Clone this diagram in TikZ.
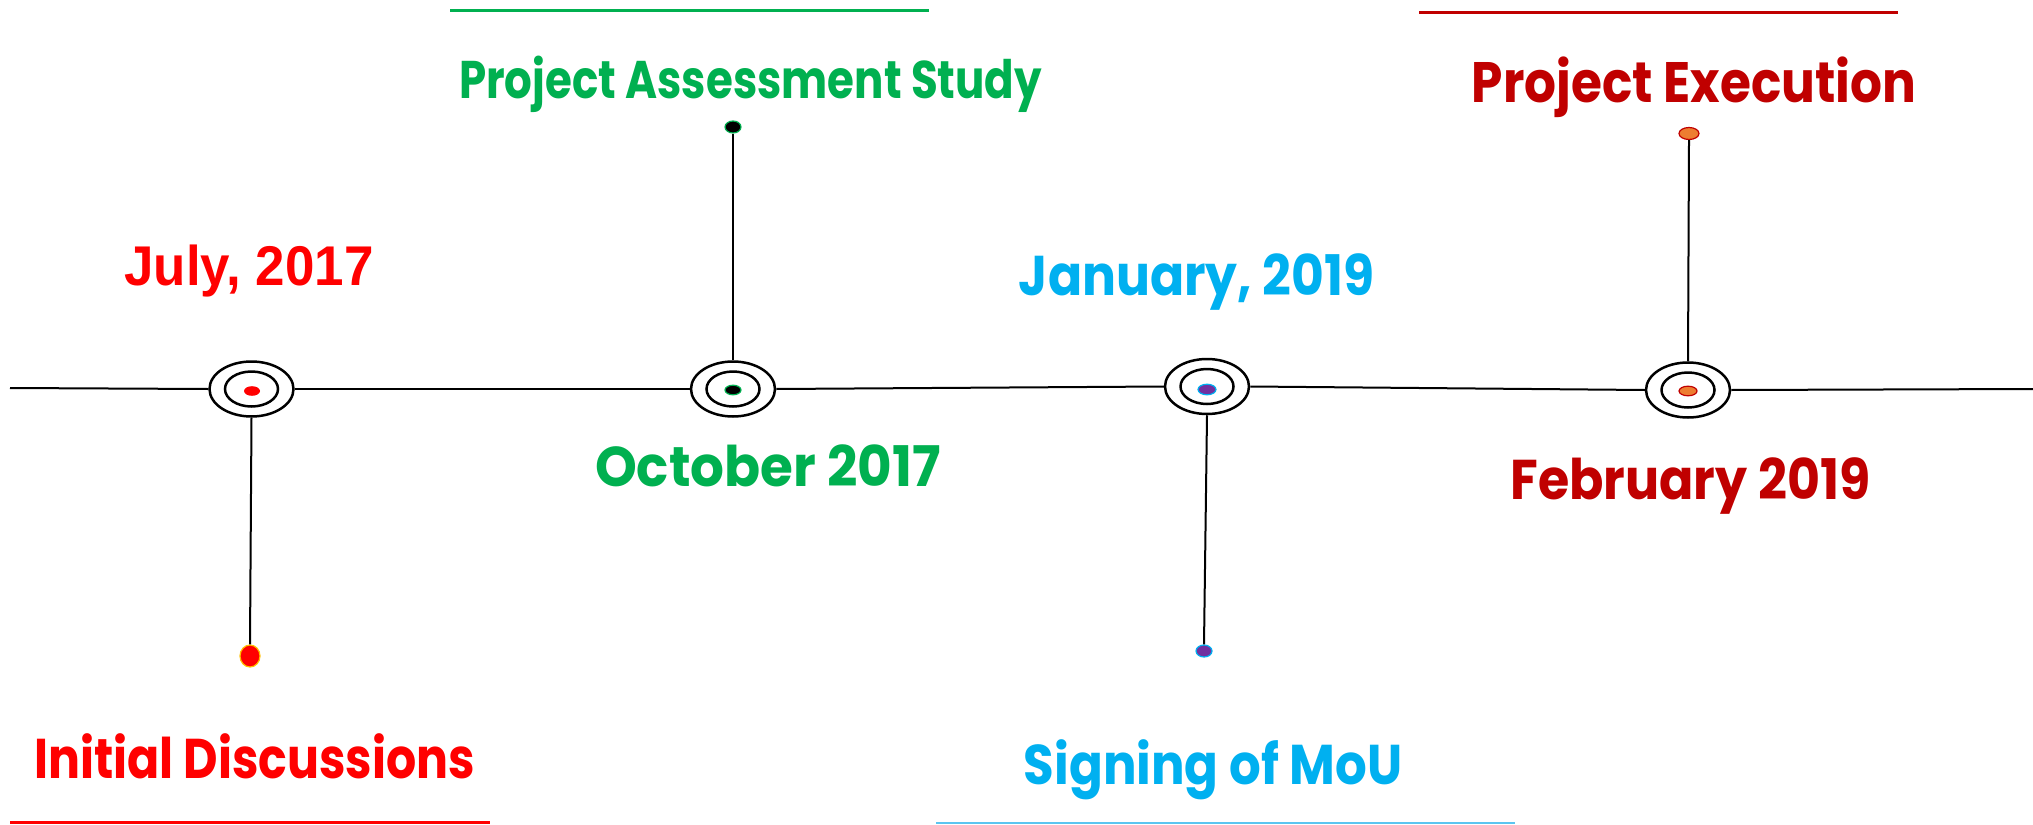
\documentclass[tikz,border=0pt]{standalone}
\usepackage{fontspec}
\usepackage{graphicx}
\usetikzlibrary{shapes.geometric}
\newfontfamily\gothic{Poppins}
\newfontfamily\arialish{Liberation Sans}
\definecolor{cred}{HTML}{FF0000}
\definecolor{cgreen}{HTML}{00B050}
\definecolor{cblue}{HTML}{00B0F0}
\definecolor{cdred}{HTML}{C00000}
\definecolor{corange}{HTML}{ED7D31}
\definecolor{cpurple}{HTML}{7030A0}
\definecolor{cgold}{HTML}{FFC000}
\definecolor{clblue}{HTML}{5BC5F0}
\tikzset{
  outerring/.style={ellipse, draw=black, line width=1.25pt, minimum width=42pt, minimum height=27.5pt, inner sep=0pt},
  innerring/.style={ellipse, draw=black, line width=1.25pt, minimum width=26.5pt, minimum height=17.5pt, inner sep=0pt},
  cdot/.style={ellipse, minimum width=8pt, minimum height=4.8pt, inner sep=0pt, line width=0.6pt},
  enddot/.style={ellipse, inner sep=0pt, line width=0.6pt},
  tline/.style={draw=black, line width=1pt},
  lbl/.style={anchor=base, inner sep=0pt, font=\gothic\bfseries\fontsize{28pt}{30pt}\selectfont},
  uline/.style={line width=1.4pt},
}
\begin{document}
\begin{tikzpicture}[x=0.5pt, y=-0.5pt]
\useasboundingbox (0,0) rectangle (2033,824);
% milestones
\node[outerring] (n1) at (251.5,389) {};
\node[innerring] at (n1) {};
\node[cdot, fill=cred] (c1) at (252,391) {};
\node[outerring] (n2) at (733,389) {};
\node[innerring] at (n2) {};
\node[cdot, fill=black, draw=cgreen] (c2) at (733,390) {};
\node[outerring] (n3) at (1207,386.5) {};
\node[innerring] at (n3) {};
\node[cdot, fill=cpurple, draw=cblue, minimum width=9pt, minimum height=5.3pt] (c3) at (1207,389.5) {};
\node[outerring] (n4) at (1688,390) {};
\node[innerring] at (n4) {};
\node[cdot, fill=corange, draw=cdred, minimum width=9pt] (c4) at (1688,391) {};
% timeline
\coordinate (lstart) at (10,388);
\coordinate (lend) at (2033,389);
\draw[tline] (lstart) -- (n1.west);
\draw[tline] (n1.east) -- (n2.west);
\draw[tline] (n2.east) -- (n3.west);
\draw[tline] (n3.east) -- (n4.west);
\draw[tline] (n4.east) -- (lend);
% end dots
\node[enddot, fill=cred, draw=cgold, minimum width=10pt, minimum height=11pt] (d1) at (250,656) {};
\node[enddot, fill=black, draw=cgreen, minimum width=8pt, minimum height=6pt] (d2) at (733,127) {};
\node[enddot, fill=cpurple, draw=cblue, minimum width=8pt, minimum height=6pt] (d3) at (1204,651) {};
\node[enddot, fill=corange, draw=cdred, minimum width=10pt, minimum height=6pt] (d4) at (1689,133.5) {};
\draw[tline] (n1.south) -- (d1.north);
\draw[tline] (n2.north) -- (d2.south);
\draw[tline] (n3.south) -- (d3.north);
\draw[tline] (n4.north) -- (d4.south);
% labels
\node[lbl, text=cred, font=\arialish\bfseries\fontsize{28pt}{30pt}\selectfont] (t1) at (249,285) {\scalebox{0.945}[1]{July, 2017}};
\node[lbl, text=cred] (b1) at (254.5,778) {\scalebox{0.847}[1]{Initial Discussions}};
\node[lbl, text=cgreen] (t2) at (768,486.7) {\scalebox{0.95}[1]{October 2017}};
\node[lbl, text=cgreen, font=\gothic\bfseries\fontsize{26.5pt}{28pt}\selectfont] (b2) at (750.5,98.3) {\scalebox{0.822}[1]{Project Assessment Study}};
\node[lbl, text=cblue] (t3) at (1196.7,295) {\scalebox{0.90}[1]{January, 2019}};
\node[lbl, text=cblue] (b3) at (1213,784) {\scalebox{0.89}[1]{Signing of MoU}};
\node[lbl, text=cdred] (t4) at (1690.5,499.3) {\scalebox{0.905}[1]{February 2019}};
\node[lbl, text=cdred, font=\gothic\bfseries\fontsize{28.5pt}{30pt}\selectfont] (b4) at (1694,102.7) {\scalebox{0.88}[1]{Project Execution}};
% underlines
\coordinate (g1) at (450,10.5); \coordinate (g2) at (929,10.5);
\draw[uline, cgreen] (g1) -- (g2);
\coordinate (r1) at (1419,12.3); \coordinate (r2) at (1898,12.3);
\draw[uline, cdred] (r1) -- (r2);
\coordinate (s1) at (10,822.5); \coordinate (s2) at (490,822.5);
\draw[uline, cred, line width=1.6pt] (s1) -- (s2);
\coordinate (u1) at (936,823); \coordinate (u2) at (1515,823);
\draw[uline, clblue, line width=1.2pt] (u1) -- (u2);
\end{tikzpicture}
\end{document}
